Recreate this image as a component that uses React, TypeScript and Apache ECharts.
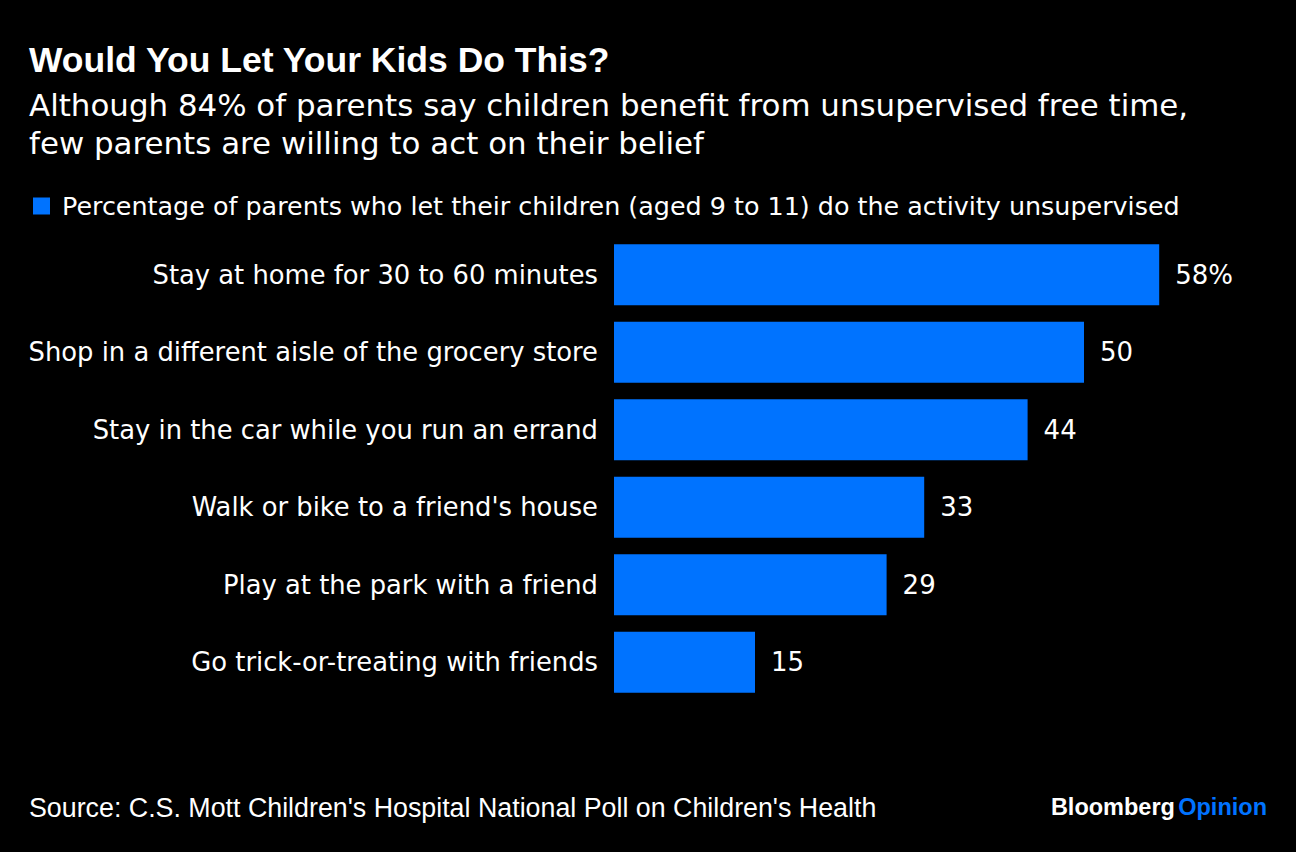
import React, { useEffect, useRef } from "react";
import * as echarts from "echarts";

const categories = [
  "Stay at home for 30 to 60 minutes",
  "Shop in a different aisle of the grocery store",
  "Stay in the car while you run an errand",
  "Walk or bike to a friend's house",
  "Play at the park with a friend",
  "Go trick-or-treating with friends",
];
const values = [58, 50, 44, 33, 29, 15];
const seriesName =
  "Percentage of parents who let their children (aged 9 to 11) do the activity unsupervised";
const titleText = "Would You Let Your Kids Do This?";
const subtitleLines = [
  "Although 84% of parents say children benefit from unsupervised free time,",
  "few parents are willing to act on their belief",
];
const sourceText = "Source: C.S. Mott Children's Hospital National Poll on Children's Health";

const BLUE = "#0073ff";
const FONT = "'Liberation Sans', Arial, Helvetica, sans-serif";
const WIDE = "'DejaVu Sans', 'Liberation Sans', sans-serif";

export default function App() {
  const ref = useRef<HTMLDivElement>(null);
  useEffect(() => {
    if (!ref.current) return;
    const chart = echarts.init(ref.current, undefined, { renderer: "svg" });
    chart.setOption({
      animation: false,
      backgroundColor: "#000000",
      textStyle: { fontFamily: WIDE },
      legend: {
        left: 33,
        top: 193,
        padding: 0,
        icon: "rect",
        itemWidth: 17,
        itemHeight: 17,
        itemGap: 10,
        textStyle: {
          color: "#ffffff",
          fontSize: 25.4,
          lineHeight: 26,
          fontFamily: WIDE,
          padding: [0, 0, 0, 7],
        },
        selectedMode: false,
        data: [seriesName],
      },
      grid: { left: 614, right: 118, top: 236, height: 465, containLabel: false },
      xAxis: {
        type: "value",
        min: 0,
        max: 60,
        show: false,
      },
      yAxis: {
        type: "category",
        data: categories,
        inverse: true,
        axisLine: { show: false },
        axisTick: { show: false },
        axisLabel: { color: "#ffffff", fontSize: 25.8, margin: 16, fontFamily: WIDE },
      },
      series: [
        {
          name: seriesName,
          type: "bar",
          data: values,
          barCategoryGap: "21%",
          itemStyle: { color: BLUE },
          label: {
            show: true,
            position: "right",
            distance: 16,
            color: "#ffffff",
            fontSize: 26,
            fontFamily: WIDE,
            formatter: (p: any) => (p.dataIndex === 0 ? p.value + "%" : String(p.value)),
          },
        },
      ],
      graphic: [
        {
          type: "text",
          left: 29,
          top: 42,
          style: { text: titleText, fill: "#ffffff", font: `bold 35.5px ${FONT}` },
        },
        {
          type: "text",
          left: 29,
          top: 86,
          style: {
            text: subtitleLines.join("\n"),
            fill: "#ffffff",
            font: `30.9px ${WIDE}`,
            lineHeight: 38,
          },
        },
        {
          type: "text",
          left: 29,
          top: 794,
          style: { text: sourceText, fill: "#ffffff", font: `26.8px ${FONT}` },
        },
        {
          type: "text",
          right: 29,
          top: 795,
          style: {
            text: "{a|Bloomberg} {b|Opinion}",
            rich: {
              a: { fill: "#ffffff", font: `bold 23.5px ${FONT}` },
              b: { fill: BLUE, font: `bold 23.5px ${FONT}` },
            },
          },
        },
      ],
    });
    return () => chart.dispose();
  }, []);
  return (
    <div
      ref={ref}
      style={{ position: "fixed", left: 0, top: 0, width: 1296, height: 852 }}
    />
  );
}
